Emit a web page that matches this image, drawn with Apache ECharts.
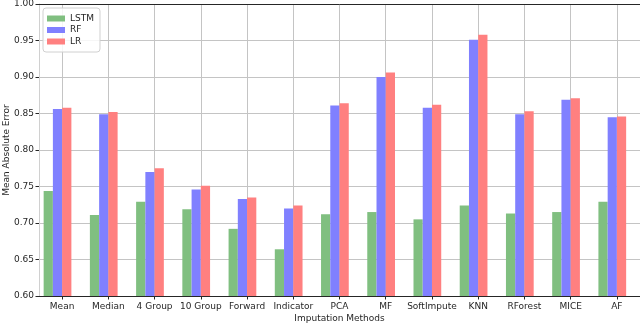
<!DOCTYPE html>
<html>
<head>
<meta charset="utf-8">
<script src="https://cdn.jsdelivr.net/npm/echarts@6/dist/echarts.min.js"></script>
<style>html,body{margin:0;padding:0;background:#fff}#c{width:640px;height:323px}</style>
</head>
<body>
<div id="c"></div>
<script>
const categories = ['Mean','Median','4 Group','10 Group','Forward','Indicator','PCA','MF','SoftImpute','KNN','RForest','MICE','AF'];
const lstm = [0.744,0.711,0.729,0.719,0.692,0.664,0.712,0.715,0.705,0.724,0.713,0.715,0.729];
const rf   = [0.856,0.849,0.770,0.746,0.733,0.720,0.861,0.900,0.858,0.951,0.849,0.869,0.845];
const lr   = [0.858,0.852,0.775,0.751,0.735,0.724,0.864,0.906,0.862,0.958,0.853,0.871,0.846];
const yTicks = {min:0.60, max:1.00, interval:0.05};

const font = 'DejaVu Sans';
const txt = '#262626';
const gridCol = '#c4c4c4';
const chart = echarts.init(document.getElementById('c'), null, {renderer:'canvas'});
const barSeries = (name, data, color) => ({
  name, type:'bar', data, xAxisIndex:3, yAxisIndex:2,
  barWidth:'20%', barGap:'0%', itemStyle:{color}, emphasis:{disabled:true}
});
const g = (left, right) => ({left, right, top:4, bottom:27, outerBoundsMode:'none', containLabel:false});
const plotL = 39, plotR = 0, plotW = 640 - plotL - plotR, half = plotW / categories.length / 2, barShift = 4.6;
chart.setOption({
  animation:false,
  grid:[
    g(plotL, plotR),
    g(plotL + half, plotR + half),
    g(plotL - barShift, plotR + barShift)
  ],
  legend:{
    orient:'vertical', left:43, top:8, data:['LSTM','RF','LR'],
    icon:'rect', itemWidth:18, itemHeight:6, itemGap:0.5,
    padding:[5,6,5,4], borderColor:'#d0d0d0', borderWidth:1, borderRadius:3,
    backgroundColor:'rgba(255,255,255,0.85)',
    textStyle:{fontFamily:font, fontSize:9, color:txt, lineHeight:11}
  },
  xAxis:[
    {type:'category', gridIndex:0, data:categories, position:'bottom',
     axisLine:{lineStyle:{color:txt, width:1}}, axisTick:{show:false},
     axisLabel:{show:false}, splitLine:{show:false}},
    {type:'category', gridIndex:0, data:categories, position:'top',
     axisLine:{lineStyle:{color:txt, width:1}}, axisTick:{show:false},
     axisLabel:{show:false}, splitLine:{show:false}},
    {type:'category', gridIndex:1, data:categories, position:'bottom', boundaryGap:false,
     name:'Imputation Methods', nameLocation:'middle', nameGap:18.5, nameMoveOverlap:false,
     nameTextStyle:{fontFamily:font, fontSize:9, color:txt},
     axisLine:{show:false},
     axisTick:{show:true, length:3.5, interval:0, lineStyle:{color:txt}},
     axisLabel:{fontFamily:font, fontSize:9, color:txt, margin:6, interval:0},
     splitLine:{show:true, interval:0, lineStyle:{color:gridCol, width:1}}},
    {type:'category', gridIndex:2, data:categories, show:false}
  ],
  yAxis:[
    {type:'value', gridIndex:0, min:yTicks.min, max:yTicks.max, interval:yTicks.interval,
     name:'Mean Absolute Error', nameLocation:'middle', nameGap:28, nameMoveOverlap:false,
     nameTextStyle:{fontFamily:font, fontSize:9, color:txt},
     axisLine:{show:true, lineStyle:{color:'#d0d0d0'}},
     axisTick:{show:true, length:3.5, lineStyle:{color:txt}},
     axisLabel:{fontFamily:font, fontSize:9, color:txt, margin:5, formatter:v=>v.toFixed(2)},
     splitLine:{show:true, lineStyle:{color:gridCol, width:1}}},
    {type:'value', gridIndex:1, min:yTicks.min, max:yTicks.max, show:false, splitLine:{show:false}},
    {type:'value', gridIndex:2, min:yTicks.min, max:yTicks.max, show:false, splitLine:{show:false}}
  ],
  series:[
    barSeries('LSTM', lstm, '#80bf80'),
    barSeries('RF', rf, '#8080ff'),
    barSeries('LR', lr, '#ff8080')
  ]
});
</script>
</body>
</html>
